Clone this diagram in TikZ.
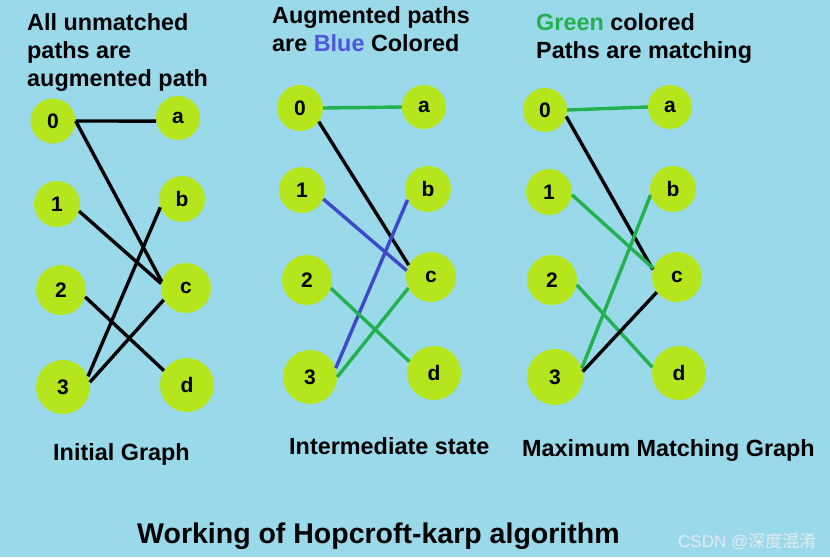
\documentclass[tikz,border=0pt]{standalone}
\usepackage{fontspec}
\setmainfont{Liberation Sans}
\newfontfamily\cjk{Noto Sans CJK SC}
\definecolor{bgblue}{HTML}{99D9EA}
\definecolor{lime}{HTML}{B5E61D}
\definecolor{mgreen}{HTML}{22B14C}
\definecolor{mblue}{HTML}{3F48CC}
\definecolor{tblue}{HTML}{4F55DD}
\definecolor{wmark}{HTML}{E4ECF0}
\tikzset{
  vtx/.style={circle, fill=lime, inner sep=0pt, font=\bfseries\fontsize{21}{24}\selectfont},
  hdr/.style={anchor=base west, inner sep=0pt, font=\bfseries\fontsize{23.4}{28}\selectfont},
  edgeblack/.style={line width=3.4pt, black},
  edgegreen/.style={line width=3.4pt, mgreen},
  edgeblue/.style={line width=3.4pt, mblue},
}
\begin{document}
\begin{tikzpicture}[x=1pt,y=-1pt]
\fill[bgblue] (0,0) rectangle (830,557);
\useasboundingbox (0,0) rectangle (830,557);

% headers
\node[hdr] (h1a) at (27,30) {All unmatched};
\node[hdr] (h1b) at (27,58) {paths are};
\node[hdr] (h1c) at (27,86) {augmented path};
\node[hdr] (h2a) at (272,23) {Augmented paths};
\node[hdr] (h2b) at (272,51) {are \textcolor{tblue}{Blue} Colored};
\node[hdr] (h3a) at (536,30) {\textcolor{mgreen}{Green} colored};
\node[hdr] (h3b) at (536,58) {Paths are matching};

% graph 1
\node[vtx, minimum size=45pt] (g1n0) at (53,121) {0};
\node[vtx, minimum size=44pt] (g1na) at (178,118) {a};
\node[vtx, minimum size=46pt] (g1n1) at (57,204) {1};
\node[vtx, minimum size=46pt] (g1nb) at (182,199) {b};
\node[vtx, minimum size=50pt] (g1n2) at (61,290) {2};
\node[vtx, minimum size=50pt] (g1nc) at (186,288) {c};
\node[vtx, minimum size=54pt] (g1n3) at (63,387) {3};
\node[vtx, minimum size=54pt] (g1nd) at (187,385) {d};
\draw[edgeblack] (g1n0.east) -- (g1na.188);
\draw[edgeblack] (g1n0.east) -- (g1nc.165);
\draw[edgeblack] (g1n1.-18) -- (g1nc.170);
\draw[edgeblack] (g1n2.-16) -- (g1nd.148);
\draw[edgeblack] (g1n3.23) -- (g1nb.201);
\draw[edgeblack] (g1n3.10) -- (g1nc.208);

% graph 2
\node[vtx, minimum size=46pt] (g2n0) at (300,108) {0};
\node[vtx, minimum size=44pt] (g2na) at (424,107) {a};
\node[vtx, minimum size=46pt] (g2n1) at (302,190) {1};
\node[vtx, minimum size=46pt] (g2nb) at (428,189) {b};
\node[vtx, minimum size=50pt] (g2n2) at (307,280) {2};
\node[vtx, minimum size=50pt] (g2nc) at (431,277) {c};
\node[vtx, minimum size=54pt] (g2n3) at (310,377) {3};
\node[vtx, minimum size=54pt] (g2nd) at (434,373) {d};
\draw[edgegreen] (g2n0.east) -- (g2na.west);
\draw[edgeblack] (g2n0.-36) -- (g2nc.152);
\draw[edgeblue] (g2n1.-23) -- (g2nc.165);
\draw[edgeblue] (g2n3.19) -- (g2nb.208);
\draw[edgegreen] (g2n2.-19) -- (g2nd.155);
\draw[edgegreen] (g2n3.east) -- (g2nc.206);

% graph 3
\node[vtx, minimum size=44pt] (g3n0) at (545,110) {0};
\node[vtx, minimum size=44pt] (g3na) at (670,107) {a};
\node[vtx, minimum size=46pt] (g3n1) at (549,192) {1};
\node[vtx, minimum size=46pt] (g3nb) at (673,189) {b};
\node[vtx, minimum size=50pt] (g3n2) at (552,280) {2};
\node[vtx, minimum size=50pt] (g3nc) at (677,277) {c};
\node[vtx, minimum size=56pt] (g3n3) at (555,377) {3};
\node[vtx, minimum size=54pt] (g3nd) at (679,373) {d};
\draw[edgegreen] (g3n0.east) -- (g3na.west);
\draw[edgeblack] (g3n0.-17) -- (g3nc.163);
\draw[edgegreen] (g3n1.-7) -- (g3nc.160);
\draw[edgegreen] (g3n3.18) -- (g3nb.195);
\draw[edgegreen] (g3n2.-11) -- (g3nd.168);
\draw[edgeblack] (g3n3.11) -- (g3nc.217);

% captions
\node[hdr] (c1) at (53,460) {Initial Graph};
\node[hdr] (c2) at (289,454) {Intermediate state};
\node[hdr] (c3) at (522,456) {Maximum Matching Graph};
\node[anchor=base west, inner sep=0pt, font=\bfseries\fontsize{28.5}{32}\selectfont] (title) at (137,543) {Working of Hopcroft-karp algorithm};
\node[anchor=base west, inner sep=0pt, text=wmark, font=\fontsize{17}{20}\selectfont] (wm) at (678,547) {CSDN @{\cjk 深度混淆}};
\end{tikzpicture}
\end{document}
